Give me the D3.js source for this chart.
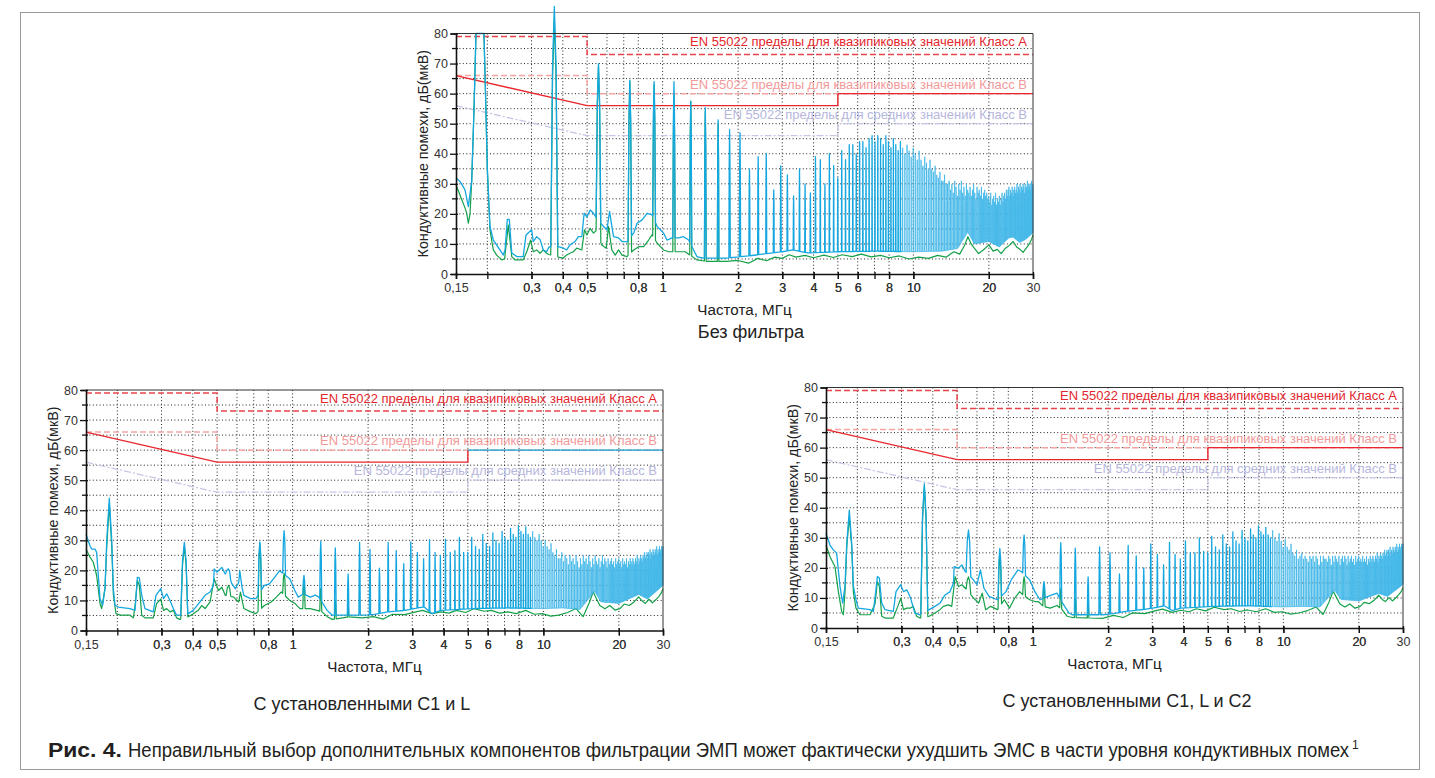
<!DOCTYPE html>
<html lang="ru">
<head>
<meta charset="utf-8">
<title>Рис. 4</title>
<script src="https://d3js.org/d3.v7.min.js"></script>
<style>
  body { margin: 0; background: #fff; }
  svg { display: block; font-family: "Liberation Sans", Arial, sans-serif; }
</style>
</head>
<body>
<script>
// ---- данные ----
const fundamentalMHz = 0.185;   // шаг гармоник преобразователя
const rbwMHz = 0.012;           // полуширина пика на экране анализатора

const gridFreqs = [0.2, 0.3, 0.4, 0.5, 0.6, 0.7, 0.8, 1, 2, 3, 4, 5, 6, 7, 8, 10, 20];
const labelFreqs = [0.15, 0.3, 0.4, 0.5, 0.8, 1, 2, 3, 4, 5, 6, 8, 10, 20, 30];
const dbTicks = [0, 10, 20, 30, 40, 50, 60, 70, 80];
const dbMinor = [5, 15, 25, 35, 45, 55, 65, 75];

// пределы EN 55022
const classAQP = [[0.15, 79], [0.5, 79], [0.5, 73], [30, 73]];
const classBQPdash = [[0.15, 66], [0.5, 66], [0.5, 60], [30, 60]];
const classBQPlow = [[0.15, 66], [0.5, 56], [5, 56], [5, 60]];
const classBQPhigh = [[5, 60], [30, 60]];
const classBAV = [[0.15, 56], [0.5, 46], [5, 46], [5, 50], [30, 50]];
const limitLabels = [
  "EN 55022 пределы для квазипиковых значений Класс А",
  "EN 55022 пределы для квазипиковых значений Класс В",
  "EN 55022 пределы для средних значений Класс В"
];
const limitLabelDb = [75.8, 61.6, 51.6];

// --- Без фильтра ---
const topBlueFloor = [[0.15,31.9],[0.1556,30.8],[0.1629,28],[0.168,22.4],[0.1733,31],[0.177,55],[0.1802,80],[0.1939,80],[0.1967,60],[0.2,35],[0.2049,15.8],[0.2113,11.3],[0.2246,8],[0.2317,6.3],[0.2353,8],[0.2403,18.2],[0.2447,18.2],[0.2503,7],[0.2619,5.8],[0.2781,5.8],[0.2853,13],[0.3005,14.7],[0.3049,10.8],[0.3148,12.4],[0.3244,11.5],[0.3343,8],[0.3449,7.4],[0.352,9],[0.3876,9],[0.4017,8.6],[0.4144,8],[0.4273,9.7],[0.4476,10.8],[0.4614,12.4],[0.4763,12.4],[0.4865,20.2],[0.4988,19],[0.5143,21.3],[0.5302,20.2],[0.5471,18.4],[0.5812,15.8],[0.5998,14.7],[0.6143,20.8],[0.6372,12.4],[0.6674,12],[0.6887,10.8],[0.7213,10.8],[0.7667,13.6],[0.791,16.9],[0.8282,18],[0.8671,20.2],[0.9078,19.7],[0.9505,15.8],[1.009,13.6],[1.041,11.3],[1.09,12],[1.158,12],[1.213,12.4],[1.27,11.3],[1.37,5.8],[1.453,5.3],[1.8,5.3],[2.2,6],[2.6,6.8],[3,7.4],[3.3,8],[3.8,7],[5,7.4],[7,7.6],[10,7.4],[13,7.6],[15,8.5],[16.5,14],[17.5,10],[19,10.5],[20,10.8],[22,9],[24,12],[25,12.3],[26.5,10.5],[28,11.5],[30,13.7]];
const topGreenFloor = [[0.15,29.7],[0.1556,26.3],[0.1629,22],[0.1655,20.2],[0.168,16.9],[0.1706,20],[0.1733,31],[0.177,55],[0.1802,80],[0.1939,80],[0.1967,60],[0.2,35],[0.2049,14.7],[0.2113,8],[0.218,6.3],[0.2281,4.7],[0.2344,5],[0.2425,16.3],[0.2503,5.8],[0.2578,4.7],[0.2781,4.7],[0.2872,7.4],[0.2978,11.3],[0.3049,7.4],[0.3148,8],[0.3244,6.9],[0.3343,8],[0.3449,6.9],[0.352,6.5],[0.3876,5.5],[0.4017,5.3],[0.4144,6.3],[0.4273,6.9],[0.4406,7.4],[0.4546,8.6],[0.4763,8],[0.4878,14.7],[0.4988,13],[0.5143,15.2],[0.5302,13.6],[0.5471,14.7],[0.571,9.7],[0.596,8.6],[0.6086,15.8],[0.6273,8],[0.6473,6.3],[0.6674,8],[0.6887,6.3],[0.7213,5.8],[0.7667,8],[0.8027,9.1],[0.8402,9.1],[0.8797,11.3],[0.9078,13],[0.9505,10.3],[1.009,8],[1.056,7.4],[1.176,7.4],[1.231,7.4],[1.37,4.7],[1.499,4.2],[1.8,4.2],[2,4.5],[2.2,3.6],[2.4,5.2],[2.6,4.4],[2.8,5.6],[3,5.2],[3.2,6.4],[3.4,5.6],[3.7,6.2],[4,5.4],[4.4,6.3],[4.8,5.5],[5.2,6.4],[5.7,5.8],[6.2,6.6],[6.8,5.7],[7.4,6.2],[8,5.4],[8.8,6],[9.6,5],[10.5,5.6],[11.5,5.2],[12.5,6.2],[13.5,5.6],[14.5,7.4],[15.3,6.6],[16,9.5],[16.5,12.4],[17,10],[17.5,8.6],[18.2,6.8],[19,8],[20,9.7],[20.8,7.6],[21.6,8.2],[22.4,6.8],[23.3,8.6],[24.2,9.6],[25,10.8],[25.8,9],[26.6,8.2],[27.4,7.2],[28.2,8.6],[29,10],[29.6,11.5],[30,13]];
// пики гармоник, начиная со 2-й
const topBluePeaks = [89,70,64.5,64,64,57.4,55.3,51.3,48,47,35,39,40,28,36,33,26,35,30,
  27,39,38,30,40,36,32,41,38,43,43,40,44,44,42,45,46,44,46,45,
  43,46,44,42,45,43,41,44,42,40,43,41,39,42,40,38,41,38,36,39,
  37,35,38,35,34,36,33,32,34,31,31,33,30,30,
  31,28,30,27,31,29,26,30,28,31,27,29,26,30,28,27,
  29,26,28,30,27,25,29,27,28,26,29,25,27,28,26,27,25,
  26,24,27,23,25,26,24,27,23,25,24,26,23,25,27,24,26,
  27,25,28,26,28,29,26,28,27,29,26,28,29,27,28,30,27,
  29,28,30,27,29,28,30,29,27,30,28,29,31,28,30,29,30,28,31,29,30];
const topGreenPeaks = [85,69,64,63,59.7,57.5,54,50];

// --- С установленными С1 и L ---
const c1lBlueFloor = [[0.15,32],[0.1556,28.2],[0.158,27.1],[0.1629,27.1],[0.1654,26],[0.1706,10.6],[0.1748,8.4],[0.1786,14],[0.1815,30],[0.1858,44],[0.19,30],[0.1928,14],[0.1957,8.4],[0.2018,7.8],[0.2246,7.3],[0.2353,6.7],[0.2381,12.8],[0.2404,17.7],[0.2448,17.5],[0.2502,11.7],[0.2578,7.3],[0.2782,6.2],[0.2853,11.7],[0.298,13.9],[0.3056,10.6],[0.3148,12.2],[0.3244,10],[0.3343,7.3],[0.3447,5.1],[0.3551,5.1],[0.3835,5.6],[0.4016,6.7],[0.4272,9.5],[0.4476,11.7],[0.4687,12.8],[0.4836,15],[0.4865,20.5],[0.4986,19.4],[0.5223,21],[0.5388,18.8],[0.5472,19.9],[0.573,15.5],[0.5911,13.9],[0.6099,16],[0.6156,19.9],[0.6294,14],[0.6393,11.7],[0.6809,10.6],[0.7136,10.6],[0.7715,15],[0.8087,15.5],[0.8477,17.7],[0.8877,19.9],[0.9156,19],[0.974,17.2],[1.021,13.3],[1.0535,11.1],[1.1036,12.2],[1.1754,11.1],[1.2318,11.8],[1.2711,11.1],[1.3739,6.7],[1.4391,5.1],[1.679,5.1],[1.9,5.1],[2.1,5.3],[2.4,6.2],[2.8,6.7],[3.2,7.6],[3.35,7.8],[3.6,5.6],[3.9,6.7],[5.2,7.3],[7.2,7.5],[9.9,7.3],[12,7.5],[14,7],[16,13],[17,9.5],[20,9],[24,12],[26,10.5],[30,15]];
const c1lGreenFloor = [[0.15,27.1],[0.1556,24.4],[0.1604,22.7],[0.1654,18.3],[0.1706,9],[0.1732,7.3],[0.1786,14],[0.1815,28],[0.1858,42],[0.19,28],[0.1928,12],[0.1975,5.6],[0.205,5.1],[0.2246,5.1],[0.2317,4.2],[0.2353,8],[0.2404,16.6],[0.2448,15],[0.2502,5.1],[0.2578,4.2],[0.2782,4.2],[0.2871,9],[0.298,10.4],[0.3056,6.7],[0.3148,7.3],[0.3244,6.2],[0.3343,6.7],[0.3447,4.2],[0.3551,3.7],[0.3835,4.6],[0.4016,5.6],[0.4205,6.7],[0.4339,8.3],[0.4476,7.3],[0.4687,9.5],[0.4865,17.2],[0.5063,13.3],[0.5223,14.4],[0.5388,11.7],[0.582,11.1],[0.6099,9.5],[0.6194,12.8],[0.6393,7.3],[0.6809,6.2],[0.7136,5.6],[0.7715,8.3],[0.8215,9.5],[0.8609,11.1],[0.9015,12.8],[0.974,10],[1.021,9],[1.0702,7.3],[1.1754,7.3],[1.2515,6.7],[1.3107,6.2],[1.3739,4.6],[1.4391,3.7],[1.679,4.5],[1.9,4.2],[2.1,4.6],[2.3,3.8],[2.5,5.4],[2.8,5.3],[3.1,6.2],[3.3,6.7],[3.6,5.6],[3.9,6.2],[4.2,5.8],[4.5,6.7],[4.9,6],[5.3,7.3],[5.8,6.4],[6.2,6.7],[6.7,5.8],[7.2,6.2],[7.8,5.6],[8.5,6.7],[9.2,5.4],[9.9,5.6],[10.7,4.8],[11.5,5.1],[12.5,6],[13.5,7.3],[14.4,4.6],[15.2,9],[15.8,12.8],[16.3,10.5],[16.8,8.3],[17.6,7.2],[18.4,8.3],[19.3,6.8],[20.2,7.3],[21,8.8],[22,8.3],[23,9.5],[24,11.2],[24.8,9.8],[25.5,9],[26.4,10.4],[27.2,9.2],[27.9,10],[28.8,11.2],[29.5,12.4],[30,13.9]];
const c1lBluePeaks = [29.3,20.5,29.5,33.2,18.3,29.7,27.5,18.8,29.3,27,20.7,29.3,26.6,22.2,29.5,26,23.9,30.2,26,
  25,30.4,26,26.6,31,26,26,31,28,27,32,29,28,32.5,30,29,33,31,30,34,
  32,31,34.8,33,32,34.5,32,31,33,31,30,32,30,28,30,28,27,29,26,25,
  27,24,24,26,23,25,24,22,25,23,24,22,25,23,21,24,22,25,23,24,
  22,25,23,21,24,22,25,23,22,24,21,23,25,22,24,23,21,24,22,23,
  24,22,23,21,24,22,23,24,22,23,21,24,22,23,22,24,21,23,22,24,
  23,22,24,23,22,24,23,25,22,24,23,25,24,23,25,24,26,24,25,26,
  24,26,25,27,24,26,25,27,26,25,27,26,28,25,27,26,28,27,26,28,27,28];
const c1lGreenPeaks = [28,15,29,19,16,14,10,8];

// --- С установленными С1, L и С2 ---
const c1lc2BlueFloor = [[0.15,31.5],[0.1556,27.6],[0.1604,26],[0.1654,24.9],[0.1706,13.8],[0.1748,8.3],[0.1786,14],[0.1815,28],[0.1858,39.2],[0.19,28],[0.1928,14],[0.1975,9.4],[0.2018,6.6],[0.2246,6.1],[0.2317,5.5],[0.2353,10],[0.2404,17.1],[0.2448,16.6],[0.2502,8.3],[0.2578,6.1],[0.2782,5.5],[0.2853,12.1],[0.298,14.4],[0.3056,12.1],[0.3148,12.7],[0.3244,10.5],[0.3394,5],[0.3551,4.4],[0.387,6.1],[0.4079,7.2],[0.4272,8.3],[0.4476,11],[0.4687,12.1],[0.4836,15],[0.4865,20.4],[0.5063,19.9],[0.5223,21],[0.5388,18.8],[0.573,16.6],[0.6004,14.4],[0.6194,19.3],[0.6393,13.3],[0.6702,10.5],[0.7248,9.4],[0.7834,12.1],[0.8215,16],[0.8744,19.3],[0.9015,18.8],[0.974,16],[1.021,12.1],[1.0702,9.4],[1.1939,11],[1.2515,11.6],[1.2909,9.4],[1.3953,5],[1.4391,4.4],[1.9,4.4],[2.1,4.8],[2.4,5.6],[2.8,6.2],[3.2,7],[3.35,7.4],[3.6,5.8],[3.9,6.6],[5.2,7.2],[7.2,7.4],[9.9,7],[12,7.2],[14,7],[16,12.5],[17,9.5],[20,9],[24,11.5],[26,10.5],[30,14.5]];
const c1lc2GreenFloor = [[0.15,27.6],[0.1556,23.7],[0.1629,20.4],[0.168,12.1],[0.1732,5.5],[0.1759,4.4],[0.1786,12],[0.1815,27],[0.1858,37],[0.19,27],[0.1928,12],[0.1975,6.6],[0.205,4.4],[0.2246,4.4],[0.2353,8],[0.2404,15.4],[0.2448,14],[0.2502,3.9],[0.2578,3.3],[0.2782,3.3],[0.2916,7.7],[0.298,9.9],[0.3056,6.1],[0.3148,6.6],[0.3244,6.6],[0.3343,7.2],[0.3447,3.9],[0.3551,3.3],[0.387,3.9],[0.4079,5],[0.4272,6.1],[0.4407,7.2],[0.4615,7.7],[0.476,7.2],[0.491,17.1],[0.5063,13.8],[0.5223,14.4],[0.5472,12.7],[0.582,9.9],[0.6099,8.3],[0.6294,11.6],[0.6496,6.1],[0.6809,7.2],[0.7248,6.1],[0.7715,9.4],[0.8087,6.6],[0.8477,9.9],[0.8877,12.1],[0.9156,11],[0.974,9.4],[1.021,8.8],[1.0535,8.8],[1.1036,7.2],[1.1754,6.6],[1.2515,7.5],[1.3107,6.1],[1.3739,3.9],[1.4391,3.5],[1.9,3.2],[2.1,4.2],[2.3,3.5],[2.5,5],[2.8,4.8],[3.1,5.8],[3.3,6.3],[3.6,5.2],[3.9,5.9],[4.2,5.4],[4.5,6.4],[4.9,5.7],[5.3,6.9],[5.8,6.1],[6.2,6.4],[6.7,5.5],[7.2,6],[7.8,5.4],[8.5,6.4],[9.2,5.2],[9.9,5.4],[10.7,4.6],[11.5,5],[12.5,5.8],[13.5,7],[14.4,4.5],[15.2,8.6],[15.8,12.2],[16.3,10.1],[16.8,8],[17.6,7],[18.4,8],[19.3,6.6],[20.2,7.1],[21,8.5],[22,8.1],[23,9.2],[24,10.9],[24.8,9.5],[25.5,8.8],[26.4,10.1],[27.2,9],[27.9,9.8],[28.8,11],[29.5,12.1],[30,13.5]];
const c1lc2BluePeaks = [48,32.6,26.5,30.9,15.4,28.4,26.6,17,27,25,18,27.5,24,20,28,24.5,21,28.5,24.5,
  23,29,25,25,30,25.5,25,30.5,27,26,31,28,27,32,29,28,32.5,30,29,33,
  31,30,34,32,31,33.5,31,30,32.5,30,29,31.5,29,27,29.5,27,26,28,25,24,
  26,23,24,25,23,24,23,22,24,23,24,22,24,23,21,24,22,24,23,23,
  22,24,23,21,24,22,24,23,22,24,21,23,24,22,24,23,21,24,22,23,
  24,22,23,21,24,22,23,24,22,23,22,24,22,23,22,24,21,23,22,24,
  23,22,24,23,22,24,23,25,22,24,23,25,24,23,25,24,26,24,25,26,
  24,26,25,27,24,26,25,27,26,25,27,26,28,25,27,26,28,27,26,28,27,28];
const c1lc2GreenPeaks = [47,17,24,17,14,13,10,8];

// ---- оформление ----
const W = 1435, H = 778;
const plotW = 577, plotH = 240.5;
const RED = "#e8262d", BLUE = "#15a7e0", BLUE_DENSE = "#42b7e8", GREEN = "#14a049";
const denseFromMHz = 9;   // выше — частокол гармоник рисуем тонко

const panels = [
  { left: 456, top: 33.5, blue: [topBlueFloor, topBluePeaks], green: [topGreenFloor, topGreenPeaks],
    title: "Без фильтра", titleX: 751, titleY: 338, highColor: RED },
  { left: 86, top: 390, blue: [c1lBlueFloor, c1lBluePeaks], green: [c1lGreenFloor, c1lGreenPeaks],
    title: "С установленными С1 и L", titleX: 362, titleY: 710, highColor: BLUE },
  { left: 826, top: 387.5, blue: [c1lc2BlueFloor, c1lc2BluePeaks], green: [c1lc2GreenFloor, c1lc2GreenPeaks],
    title: "С установленными С1, L и С2", titleX: 1127, titleY: 707, highColor: RED }
];

const svg = d3.select("body").append("svg").attr("width", W).attr("height", H);

// рамка страницы
svg.append("rect").attr("x", 20.5).attr("y", 12.5).attr("width", 1399).attr("height", 757)
  .attr("fill", "none").attr("stroke", "#9a9a9a").attr("stroke-width", 1);

const x = d3.scaleLog().domain([0.15, 30]).range([0, plotW]);
const y = d3.scaleLinear().domain([0, 80]).range([plotH, 0]);

// области отсечения: низкие частоты / частокол
const defs = svg.append("defs");
defs.append("clipPath").attr("id", "clip-low").append("rect")
  .attr("x", -10).attr("y", -60).attr("width", x(denseFromMHz) + 10).attr("height", plotH + 70);
defs.append("clipPath").attr("id", "clip-high").append("rect")
  .attr("x", x(denseFromMHz)).attr("y", -60).attr("width", plotW - x(denseFromMHz) + 10).attr("height", plotH + 70);

function floorAt(floor, f) {
  const l = Math.log10(f);
  for (let i = 1; i < floor.length; i++) {
    const a = floor[i - 1], b = floor[i];
    if (f <= b[0]) {
      const la = Math.log10(a[0]), lb = Math.log10(b[0]);
      const t = lb === la ? 0 : (l - la) / (lb - la);
      return a[1] + t * (b[1] - a[1]);
    }
  }
  return floor[floor.length - 1][1];
}

// огибающая + пики гармоник (форма пика — фильтр ПЧ анализатора)
function tracePoints(floor, peaks) {
  const spikes = peaks.map((v, i) => ({ f: (i + 2) * fundamentalMHz, v }))
    .filter(s => s.f + rbwMHz <= 30);
  const pts = floor.filter(p => !spikes.some(s => Math.abs(p[0] - s.f) < rbwMHz));
  spikes.forEach(s => {
    const b0 = floorAt(floor, s.f - rbwMHz), b1 = floorAt(floor, s.f + rbwMHz);
    const top = Math.max(s.v, b0, b1);
    pts.push([s.f - rbwMHz, b0],
             [s.f - rbwMHz / 2, top - 0.25 * (top - b0)],
             [s.f, top],
             [s.f + rbwMHz / 2, top - 0.25 * (top - b1)],
             [s.f + rbwMHz, b1]);
  });
  return pts.sort((a, b) => a[0] - b[0]);
}

const line = d3.line().x(d => x(d[0])).y(d => y(d[1]));

panels.forEach(p => {
  const g = svg.append("g").attr("transform", `translate(${p.left},${p.top})`);

  // сетка
  g.append("g").selectAll("line").data(dbMinor.concat(dbTicks.slice(1, -1))).join("line")
    .attr("x1", 0).attr("x2", plotW).attr("y1", d => y(d)).attr("y2", d => y(d))
    .attr("stroke", "#222").attr("stroke-width", 1).attr("stroke-dasharray", "1,2.4");
  g.append("g").selectAll("line").data(gridFreqs).join("line")
    .attr("y1", 0).attr("y2", plotH).attr("x1", d => x(d)).attr("x2", d => x(d))
    .attr("stroke", "#222").attr("stroke-width", 1).attr("stroke-dasharray", "1,2.4");

  // пределы
  g.append("path").attr("d", line(classBQPdash)).attr("fill", "none")
    .attr("stroke", "#f6a5a5").attr("stroke-width", 1.5).attr("stroke-dasharray", "6,3");
  g.append("path").attr("d", line(classAQP)).attr("fill", "none")
    .attr("stroke", "#e8434a").attr("stroke-width", 1.5).attr("stroke-dasharray", "6,3");
  g.append("path").attr("d", line(classBAV)).attr("fill", "none")
    .attr("stroke", "#c6c6e6").attr("stroke-width", 1.3).attr("stroke-dasharray", "7,2,2,2");
  g.append("path").attr("d", line(classBQPlow)).attr("fill", "none")
    .attr("stroke", RED).attr("stroke-width", 1.4);
  g.append("path").attr("d", line(classBQPhigh)).attr("fill", "none")
    .attr("stroke", p.highColor).attr("stroke-width", 1.4);

  // спектры
  const greenD = line(tracePoints(p.green[0], p.green[1]));
  const blueD = line(tracePoints(p.blue[0], p.blue[1]));
  g.append("path").attr("d", greenD).attr("fill", "none")
    .attr("stroke", GREEN).attr("stroke-width", 1.2).attr("stroke-linejoin", "round");
  g.append("path").attr("d", blueD).attr("fill", "none").attr("clip-path", "url(#clip-low)")
    .attr("stroke", BLUE).attr("stroke-width", 1.3).attr("stroke-linejoin", "round");
  g.append("path").attr("d", blueD).attr("fill", "none").attr("clip-path", "url(#clip-high)")
    .attr("stroke", BLUE_DENSE).attr("stroke-width", 0.8).attr("stroke-linejoin", "round");

  // подписи пределов
  const labelColors = ["#e3262d", "#f29a9a", "#b6b6dc"];
  g.append("g").selectAll("text").data(limitLabels).join("text")
    .attr("x", plotW - 6).attr("y", (d, i) => y(limitLabelDb[i]))
    .attr("text-anchor", "end").attr("font-size", 13).attr("fill", (d, i) => labelColors[i])
    .text(d => d);

  // рамка графика
  g.append("path").attr("d", `M0,0H${plotW}V${plotH}`).attr("fill", "none")
    .attr("stroke", "#333").attr("stroke-width", 1);

  // оси
  const ay = g.append("g").call(d3.axisLeft(y).tickValues(dbTicks).tickSize(5).tickPadding(3));
  ay.select(".domain").attr("stroke", "#111").attr("stroke-width", 1.6);
  ay.selectAll(".tick line").attr("stroke", "#111").attr("stroke-width", 1.3).attr("x2", -6).attr("x1", 2);
  ay.selectAll("text").attr("font-size", 12.5).attr("fill", "#333").attr("font-family", null);
  g.append("g").selectAll("line").data(dbMinor).join("line")
    .attr("x1", -4).attr("x2", 2).attr("y1", d => y(d)).attr("y2", d => y(d))
    .attr("stroke", "#111").attr("stroke-width", 1.3);

  const ax = g.append("g").attr("transform", `translate(0,${plotH})`)
    .call(d3.axisBottom(x).tickValues(labelFreqs.concat(gridFreqs)).tickSize(5).tickPadding(4.5)
      .tickFormat(d => labelFreqs.includes(d) ? String(d).replace(".", ",") : ""));
  ax.select(".domain").attr("stroke", "#111").attr("stroke-width", 1.6);
  ax.selectAll(".tick line").attr("stroke", "#111").attr("stroke-width", 1.3).attr("y1", -2);
  ax.selectAll("text").attr("font-size", 12.5).attr("fill", "#333").attr("font-family", null);

  // подписи осей
  g.append("text").attr("transform", `translate(-28,${plotH / 2}) rotate(-90)`)
    .attr("text-anchor", "middle").attr("font-size", 14.3).attr("fill", "#222")
    .text("Кондуктивные помехи, дБ(мкВ)");
  g.append("text").attr("x", plotW / 2).attr("y", plotH + 41)
    .attr("text-anchor", "middle").attr("font-size", 15.2).attr("fill", "#222")
    .text("Частота, МГц");

  svg.append("text").attr("x", p.titleX).attr("y", p.titleY)
    .attr("text-anchor", "middle").attr("font-size", 18).attr("fill", "#222")
    .text(p.title);
});

// подпись рисунка (в оригинале узкий шрифт: сжимаем по ширине)
function fitText(txt, x0, width, opts) {
  const gg = svg.append("g");
  const t = gg.append("text").attr("font-size", opts.size).attr("fill", "#231f20")
    .attr("font-weight", opts.bold ? "bold" : null).text(txt);
  const w = t.node().getComputedTextLength();
  gg.attr("transform", `translate(${x0},${opts.y}) scale(${width / w},1)`);
}
fitText("Рис. 4.", 48, 74, { size: 20, bold: true, y: 757 });
fitText("Неправильный выбор дополнительных компонентов фильтрации ЭМП может фактически ухудшить ЭМС в части уровня кондуктивных помех",
  128, 1222, { size: 19.5, y: 757 });
svg.append("text").attr("x", 1352).attr("y", 749).attr("font-size", 12).attr("fill", "#231f20").text("1");
</script>
</body>
</html>
